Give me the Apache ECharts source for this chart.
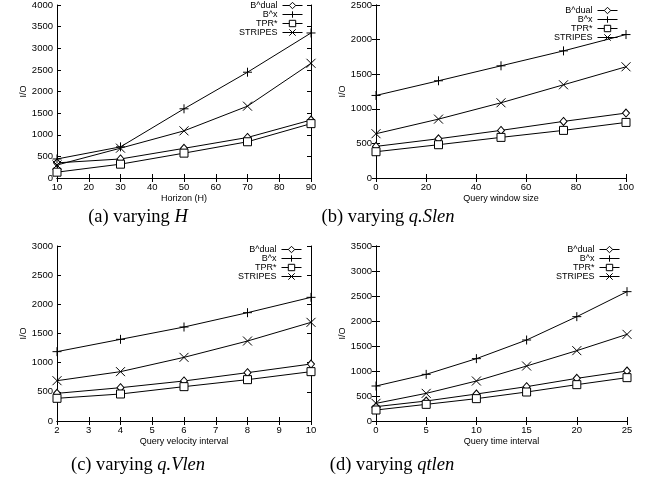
<!DOCTYPE html>
<html>
<head>
<meta charset="utf-8">
<script src="https://cdn.jsdelivr.net/npm/echarts@6/dist/echarts.min.js"></script>
<style>
  body { margin: 0; background: #fff; }
  #chart { width: 654px; height: 485px; }
</style>
</head>
<body>
<div id="chart"></div>
<script>
  // series names
  const names = ['B^dual', 'B^x', 'TPR*', 'STRIPES'];

  // (a) varying H
  const xA = [10, 30, 50, 70, 90];
  const aBdual = [350, 440, 686, 937, 1341];
  const aBx = [440, 720, 1600, 2446, 3353];
  const aTpr = [135, 320, 575, 838, 1257];
  const aStripes = [300, 690, 1090, 1661, 2652];

  // (b) varying q.Slen
  const xB = [0, 25, 50, 75, 100];
  const bBdual = [457, 567, 688, 818, 938];
  const bBx = [1193, 1405, 1621, 1837, 2073];
  const bTpr = [380, 481, 587, 688, 803];
  const bStripes = [640, 851, 1087, 1347, 1607];

  // (c) varying q.Vlen
  const xC = [2, 4, 6, 8, 10];
  const cBdual = [474, 571, 686, 829, 977];
  const cBx = [1189, 1400, 1611, 1857, 2120];
  const cTpr = [389, 463, 589, 709, 846];
  const cStripes = [691, 846, 1091, 1371, 1691];

  // (d) varying qtlen
  const xD = [0, 5, 10, 15, 20, 25];
  const dBdual = [287, 400, 540, 687, 853, 1000];
  const dBx = [700, 933, 1247, 1620, 2087, 2587];
  const dTpr = [220, 333, 447, 580, 727, 867];
  const dStripes = [353, 553, 800, 1100, 1407, 1733];

  const xNames = ['Horizon (H)', 'Query window size', 'Query velocity interval', 'Query time interval'];

  const font = 'Liberation Sans, Arial, sans-serif'
  const serif = 'Liberation Serif, Times New Roman, serif'

  // marker styles, gnuplot-ish
  const marks = {
    'B^dual': { symbol: 'diamond', symbolSize: [7, 8] },
    'B^x': { symbol: 'path://M5,0L5,10M0,5L10,5', symbolSize: 9 },
    'TPR*': { symbol: 'rect', symbolSize: 8 },
    'STRIPES': { symbol: 'path://M0,0L10,10M10,0L0,10', symbolSize: 9 }
  }

  const panels = [
    { grid: { left: 57, top: 3, width: 254, height: 175 }, x: xA, xmin: 10, xmax: 90, xint: 10, ymax: 4000,
      ys: [aBdual, aBx, aTpr, aStripes], legend: { right: 351, top: 1 } },
    { grid: { left: 376, top: 5, width: 250, height: 173 }, x: xB, xmin: 0, xmax: 100, xint: 20, ymax: 2500,
      ys: [bBdual, bBx, bTpr, bStripes], legend: { right: 36, top: 6 } },
    { grid: { left: 57, top: 246, width: 254, height: 175 }, x: xC, xmin: 2, xmax: 10, xint: 1, ymax: 3000,
      ys: [cBdual, cBx, cTpr, cStripes], legend: { right: 352, top: 245 } },
    { grid: { left: 376, top: 246, width: 251, height: 175 }, x: xD, xmin: 0, xmax: 25, xint: 5, ymax: 3500,
      ys: [dBdual, dBx, dTpr, dStripes], legend: { right: 34, top: 245 } }
  ]

  let grid = [], xAxis = [], yAxis = [], series = [], legend = []
  const line = { show: true, lineStyle: { color: '#000', width: 1 } }
  const tick = { show: true, inside: true, length: 4, lineStyle: { color: '#000' } }
  const plain = v => String(v)

  panels.forEach((p, i) => {
    grid.push(p.grid)
    // main axes (bottom / left)
    xAxis.push({
      type: 'value', gridIndex: i, min: p.xmin, max: p.xmax, interval: p.xint,
      axisLine: line, axisTick: tick, splitLine: { show: false },
      axisLabel: { color: '#000', fontSize: 9.5, fontFamily: font, margin: 4, formatter: plain },
      name: xNames[i], nameLocation: 'middle', nameGap: 16,
      nameTextStyle: { color: '#000', fontSize: 9, fontFamily: font }
    })
    yAxis.push({
      type: 'value', gridIndex: i, min: 0, max: p.ymax, interval: 500,
      axisLine: line, axisTick: tick, splitLine: { show: false },
      axisLabel: { color: '#000', fontSize: 9.5, fontFamily: font, margin: 4, formatter: plain },
      name: 'I/O', nameLocation: 'middle', nameGap: 29, nameRotate: 90,
      nameTextStyle: { color: '#000', fontSize: 9, fontFamily: font }
    })
    // mirror axes (top / right), ticks only
    xAxis.push({
      type: 'value', gridIndex: i, position: 'top', min: p.xmin, max: p.xmax, interval: p.xint,
      axisLine: line, axisTick: tick, axisLabel: { show: false }, splitLine: { show: false }
    })
    yAxis.push({
      type: 'value', gridIndex: i, position: 'right', min: 0, max: p.ymax, interval: 500,
      axisLine: line, axisTick: tick, axisLabel: { show: false }, splitLine: { show: false }
    })

    names.forEach((n, k) => {
      series.push({
        name: n,
        type: 'line',
        xAxisIndex: i * 2,
        yAxisIndex: i * 2,
        data: p.x.map((v, j) => [v, p.ys[k][j]]),
        symbol: marks[n].symbol,
        symbolSize: marks[n].symbolSize,
        showAllSymbol: true,
        lineStyle: { color: '#000', width: 1 },
        itemStyle: { color: '#fff', borderColor: '#000', borderWidth: 1 },
        emphasis: { disabled: true },
        animation: false
      })
    })

    legend.push({
      orient: 'vertical',
      align: 'right',
      right: p.legend.right,
      top: p.legend.top,
      data: names,
      itemWidth: 20,
      itemHeight: 8,
      itemGap: 0,
      padding: 0,
      selectedMode: false,
      lineStyle: { width: 1 },
      itemStyle: { borderWidth: 1 },
      textStyle: { color: '#000', fontSize: 9, fontFamily: font, lineHeight: 9 }
    })
  })

  // captions below each panel
  const caps = [
    { x: 138, y: 217, a: '(a) varying ', m: 'H' },
    { x: 388, y: 217, a: '(b) varying ', m: 'q.Slen' },
    { x: 138, y: 465, a: '(c) varying ', m: 'q.Vlen' },
    { x: 392, y: 465, a: '(d) varying ', m: 'qtlen' }
  ]
  const graphic = caps.map(c => ({
    type: 'text',
    x: c.x,
    y: c.y,
    style: {
      text: '{n|' + c.a + '}{m|' + c.m + '}',
      align: 'center',
      verticalAlign: 'middle',
      rich: {
        n: { fontFamily: serif, fontSize: 18.5, fill: '#000' },
        m: { fontFamily: serif, fontSize: 18.5, fontStyle: 'italic', fill: '#000' }
      }
    }
  }))

  let myChart = echarts.init(document.getElementById('chart'))
  myChart.setOption({
    animation: false,
    grid: grid,
    xAxis: xAxis,
    yAxis: yAxis,
    legend: legend,
    series: series,
    graphic: graphic
  })
</script>
</body>
</html>
